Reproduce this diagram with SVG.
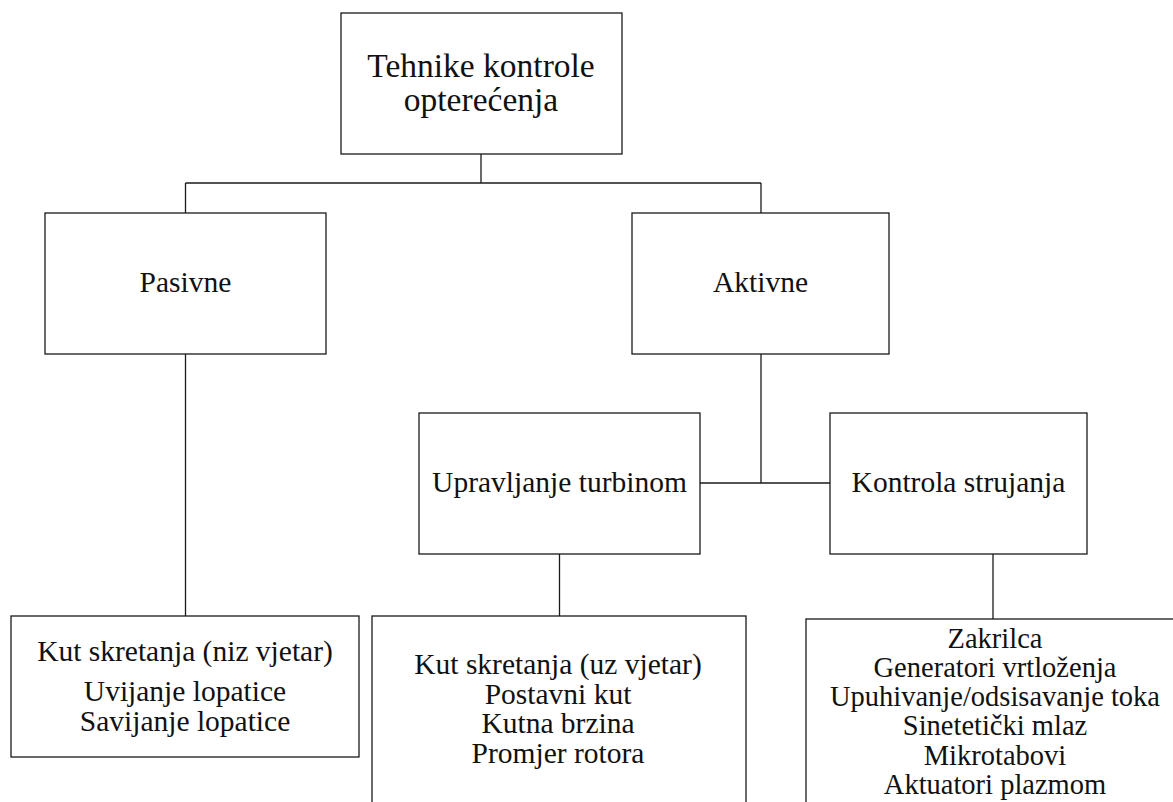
<svg xmlns="http://www.w3.org/2000/svg" width="1173" height="802" viewBox="0 0 1173 802">
<style>
.box{fill:#fff;stroke:#1a1a1a;stroke-width:1.3}
.con{fill:none;stroke:#1a1a1a;stroke-width:1.3}
text{font-family:"Liberation Serif","Times New Roman",serif;fill:#111;text-anchor:middle;font-size:29.5px}
.big{font-size:33.5px}
.list text{font-size:28.5px}
</style>
<rect width="1173" height="802" fill="#fff"/>
<g id="connectors">
<line class="con" x1="481" y1="154" x2="481" y2="183"/>
<line class="con" x1="185.5" y1="183" x2="761" y2="183"/>
<line class="con" x1="185.5" y1="183" x2="185.5" y2="213"/>
<line class="con" x1="761" y1="183" x2="761" y2="213"/>
<line class="con" x1="185.5" y1="354" x2="185.5" y2="616"/>
<line class="con" x1="761" y1="354" x2="761" y2="483"/>
<line class="con" x1="700" y1="483" x2="830" y2="483"/>
<line class="con" x1="559.5" y1="554" x2="559.5" y2="616"/>
<line class="con" x1="993" y1="554" x2="993" y2="619"/>
</g>
<g id="root">
<rect class="box" x="341" y="13" width="281" height="141"/>
<text class="big" x="481" y="77">Tehnike kontrole</text>
<text class="big" x="481" y="110.5">opterećenja</text>
</g>
<g id="pasivne">
<rect class="box" x="45" y="213" width="281" height="141"/>
<text x="185.5" y="291.5">Pasivne</text>
</g>
<g id="aktivne">
<rect class="box" x="632" y="213" width="257" height="141"/>
<text x="760.5" y="291.5">Aktivne</text>
</g>
<g id="upravljanje">
<rect class="box" x="419" y="413" width="281" height="141"/>
<text x="559.5" y="492">Upravljanje turbinom</text>
</g>
<g id="kontrola">
<rect class="box" x="830" y="413" width="257" height="141"/>
<text x="958.5" y="491.5">Kontrola strujanja</text>
</g>
<g id="pasivne-list">
<rect class="box" x="11" y="616" width="348" height="141"/>
<text x="185" y="660.5">Kut skretanja (niz vjetar)</text>
<text x="185" y="700.5">Uvijanje lopatice</text>
<text x="185" y="730.5">Savijanje lopatice</text>
</g>
<g id="upravljanje-list">
<rect class="box" x="372" y="616" width="374" height="200"/>
<text x="558" y="674">Kut skretanja (uz vjetar)</text>
<text x="558" y="703.5">Postavni kut</text>
<text x="558" y="733">Kutna brzina</text>
<text x="558" y="762.5">Promjer rotora</text>
</g>
<g id="kontrola-list" class="list">
<rect class="box" x="806" y="619" width="380" height="200"/>
<text x="995" y="647.5">Zakrilca</text>
<text x="995" y="676.8">Generatori vrtloženja</text>
<text x="995" y="706.1">Upuhivanje/odsisavanje toka</text>
<text x="995" y="735.4">Sinetetički mlaz</text>
<text x="995" y="764.7">Mikrotabovi</text>
<text x="995" y="794">Aktuatori plazmom</text>
</g>
</svg>
